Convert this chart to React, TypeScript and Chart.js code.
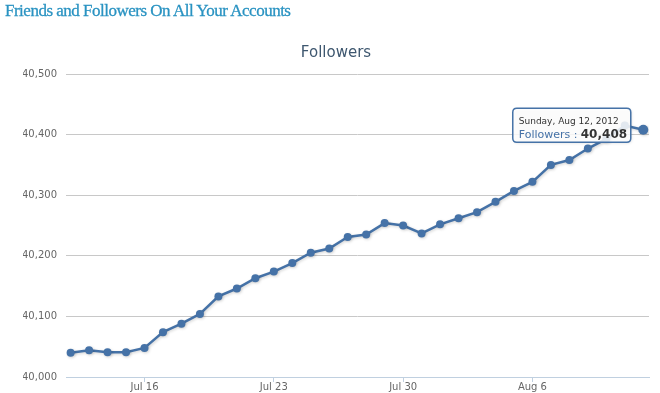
import React, { useEffect, useRef } from "react";
import { Chart, registerables } from "chart.js";

Chart.register(...registerables);

const pageTitle = "Friends and Followers On All Your Accounts";
const chartTitle = "Followers";
const seriesName = "Followers";

const dates = [
  "2012-07-12", "2012-07-13", "2012-07-14", "2012-07-15", "2012-07-16", "2012-07-17",
  "2012-07-18", "2012-07-19", "2012-07-20", "2012-07-21", "2012-07-22", "2012-07-23",
  "2012-07-24", "2012-07-25", "2012-07-26", "2012-07-27", "2012-07-28", "2012-07-29",
  "2012-07-30", "2012-07-31", "2012-08-01", "2012-08-02", "2012-08-03", "2012-08-04",
  "2012-08-05", "2012-08-06", "2012-08-07", "2012-08-08", "2012-08-09", "2012-08-10",
  "2012-08-11", "2012-08-12",
];

const followers = [
  40040, 40044, 40041, 40041, 40048, 40074, 40088, 40104, 40133, 40146, 40163, 40174,
  40188, 40205, 40212, 40231, 40235, 40254, 40250, 40237, 40252, 40262, 40272, 40289,
  40307, 40322, 40350, 40358, 40377, 40393, 40415, 40408,
];

const tickDates = ["2012-07-16", "2012-07-23", "2012-07-30", "2012-08-06"];
const tickLabels = ["Jul 16", "Jul 23", "Jul 30", "Aug 6"];

const yTicks = [40000, 40100, 40200, 40300, 40400, 40500];

const hoverIndex = 31;
const hoverDateLabel = "Sunday, Aug 12, 2012";

const DAY = 86400000;
const dayIndex = (d: string) => Math.round((Date.parse(d) - Date.parse(dates[0])) / DAY);

export default function App() {
  const canvasRef = useRef<HTMLCanvasElement | null>(null);

  useEffect(() => {
    const canvas = canvasRef.current;
    if (!canvas) return;

    const points = dates.map((d, i) => ({ x: dayIndex(d), y: followers[i] }));
    const tickPositions = tickDates.map(dayIndex);

    const shadowPlugin = {
      id: "lineShadow",
      beforeDatasetsDraw(chart: any) {
        const ctx = chart.ctx;
        ctx.save();
        ctx.shadowColor = "rgba(0,0,0,0.18)";
        ctx.shadowBlur = 3;
        ctx.shadowOffsetX = 1;
        ctx.shadowOffsetY = 1;
      },
      afterDatasetsDraw(chart: any) {
        chart.ctx.restore();
      },
    };

    const tooltipPlugin = {
      id: "staticTooltip",
      afterDraw(chart: any) {
        const meta = chart.getDatasetMeta(0);
        const el = meta.data[hoverIndex];
        if (!el) return;
        const ctx = chart.ctx;
        const w = 118;
        const h = 34;
        const bx = el.x - 12.5 - w;
        const by = el.y - 21.5;
        ctx.save();
        ctx.beginPath();
        const r = 4;
        ctx.moveTo(bx + r, by);
        ctx.lineTo(bx + w - r, by);
        ctx.quadraticCurveTo(bx + w, by, bx + w, by + r);
        ctx.lineTo(bx + w, by + h - r);
        ctx.quadraticCurveTo(bx + w, by + h, bx + w - r, by + h);
        ctx.lineTo(bx + r, by + h);
        ctx.quadraticCurveTo(bx, by + h, bx, by + h - r);
        ctx.lineTo(bx, by + r);
        ctx.quadraticCurveTo(bx, by, bx + r, by);
        ctx.closePath();
        ctx.shadowColor = "rgba(0,0,0,0.15)";
        ctx.shadowBlur = 3;
        ctx.shadowOffsetX = 1;
        ctx.shadowOffsetY = 1;
        ctx.fillStyle = "rgba(255,255,255,0.85)";
        ctx.fill();
        ctx.shadowColor = "transparent";
        ctx.lineWidth = 1.5;
        ctx.strokeStyle = "#4572A7";
        ctx.stroke();

        ctx.textBaseline = "alphabetic";
        ctx.textAlign = "left";
        ctx.fillStyle = "#333333";
        ctx.font = "9px 'DejaVu Sans'";
        ctx.fillText(hoverDateLabel, bx + 6, by + 16);
        ctx.fillStyle = "#4572A7";
        ctx.font = "11px 'DejaVu Sans'";
        const lab = seriesName + " : ";
        ctx.fillText(lab, bx + 6, by + 29.5);
        ctx.fillStyle = "#333333";
        ctx.font = "bold 12px 'DejaVu Sans'";
        ctx.fillText(followers[hoverIndex].toLocaleString("en-US"), bx + 68, by + 29.5);
        ctx.restore();
      },
    };

    const chart = new Chart(canvas, {
      type: "line",
      data: {
        datasets: [
          {
            label: seriesName,
            data: points,
            borderColor: "#4572A7",
            backgroundColor: "#4572A7",
            borderWidth: 2.5,
            pointRadius: points.map((_, i) => (i === hoverIndex ? 5 : 4)),
            pointBorderWidth: 0,
            pointBackgroundColor: "#4572A7",
            tension: 0,
            fill: false,
          },
        ],
      },
      options: {
        responsive: false,
        devicePixelRatio: 1,
        animation: false,
        events: [],
        layout: { padding: { left: 23, right: 11, top: 0, bottom: 0 } },
        plugins: {
          legend: { display: false },
          tooltip: { enabled: false },
          title: {
            display: true,
            text: chartTitle,
            color: "#3E576F",
            font: { family: "'DejaVu Sans'", size: 15, weight: "normal", lineHeight: 1.2 },
            padding: { top: 44, bottom: 12 },
          },
        },
        scales: {
          x: {
            type: "linear",
            min: -0.25,
            max: 31.31,
            afterBuildTicks(scale: any) {
              scale.ticks = tickPositions.map((v) => ({ value: v }));
            },
            afterFit(scale: any) {
              scale.height = 16;
            },
            ticks: {
              autoSkip: false,
              maxRotation: 0,
              color: "#666666",
              padding: -1,
              font: { family: "'DejaVu Sans'", size: 10 },
              callback: (v: any) => {
                const i = tickPositions.indexOf(Number(v));
                return i >= 0 ? tickLabels[i] : "";
              },
            },
            grid: {
              drawOnChartArea: false,
              drawTicks: true,
              tickLength: 5,
              tickColor: "#C0D0E0",
              lineWidth: 1,
            },
            border: { display: true, color: "#C0D0E0", width: 1 },
          },
          y: {
            type: "linear",
            min: yTicks[0],
            max: yTicks[yTicks.length - 1],
            afterBuildTicks(scale: any) {
              scale.ticks = yTicks.map((v) => ({ value: v }));
            },
            afterFit(scale: any) {
              scale.width = 43;
            },
            ticks: {
              color: "#666666",
              padding: 9,
              font: { family: "'DejaVu Sans'", size: 10 },
              callback: (v: any) => Number(v).toLocaleString("en-US"),
            },
            grid: { color: "#C8C8C8", lineWidth: 1, drawTicks: false },
            border: { display: false },
          },
        },
      },
      plugins: [shadowPlugin, tooltipPlugin],
    });

    return () => chart.destroy();
  }, []);

  return (
    <div
      style={{
        position: "fixed",
        left: 0,
        top: 0,
        width: 660,
        height: 393,
        background: "#ffffff",
        overflow: "hidden",
      }}
    >
      <canvas
        ref={canvasRef}
        width={660}
        height={393}
        style={{ position: "absolute", left: 0, top: 0, width: 660, height: 393 }}
      />
      <div
        style={{
          position: "absolute",
          left: 5,
          top: 1,
          fontFamily: "'Liberation Serif', serif",
          fontSize: 17,
          letterSpacing: -0.5,
          color: "#2A93C2",
          WebkitTextStroke: "0.3px #2A93C2",
          whiteSpace: "nowrap",
          lineHeight: "normal",
        }}
      >
        {pageTitle}
      </div>
    </div>
  );
}
